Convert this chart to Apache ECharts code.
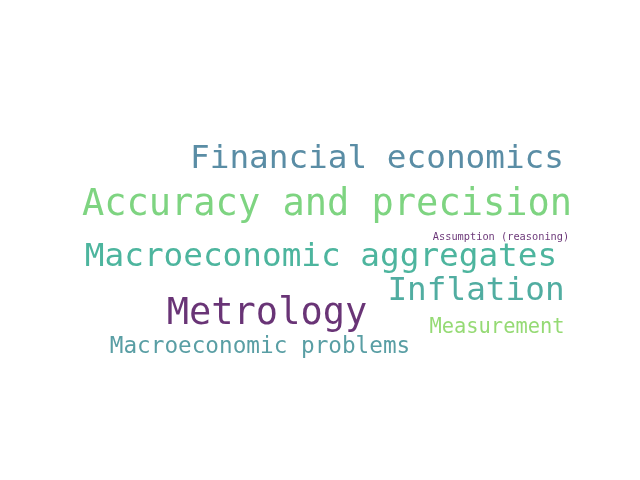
<!DOCTYPE html>
<html>
<head>
<meta charset="utf-8">
<script src="https://cdn.jsdelivr.net/npm/echarts@6/dist/echarts.min.js"></script>
<style>html,body{margin:0;background:#fff}#c{width:640px;height:480px}</style>
</head>
<body>
<div id="c"></div>
<script>
// word cloud: words, their layout position (pixel centre) and weight
const words = ['Financial economics', 'Accuracy and precision', 'Assumption (reasoning)',
    'Macroeconomic aggregates', 'Inflation', 'Metrology', 'Measurement', 'Macroeconomic problems'];
const posX = [377, 327, 501, 321, 476, 267, 497, 260];
const posY = [160, 205, 237, 258, 292, 314, 328, 347];
const sizes = [32.7, 37, 10.3, 32.7, 32.7, 37, 20.4, 22.7];
const colors = ['#31708e', '#5ec962', '#440154', '#21a386', '#26998a', '#440154', '#7ad151', '#30868d'];

const chart = echarts.init(document.getElementById('c'));
chart.setOption({
    animation: false,
    grid: { left: 0, right: 0, top: 0, bottom: 0 },
    xAxis: { type: 'value', min: 0, max: 640, show: false },
    yAxis: { type: 'value', min: 0, max: 480, inverse: true, show: false },
    series: [{
        type: 'scatter',
        symbolSize: 0,
        data: words.map((w, i) => ({
            value: [posX[i], posY[i]],
            name: w,
            label: { fontSize: sizes[i], color: colors[i] },
        })),
        label: {
            show: true,
            position: 'inside',
            formatter: (p) => p.name,
            fontFamily: 'DejaVu Sans Mono',
        },
    }],
});
</script>
</body>
</html>
